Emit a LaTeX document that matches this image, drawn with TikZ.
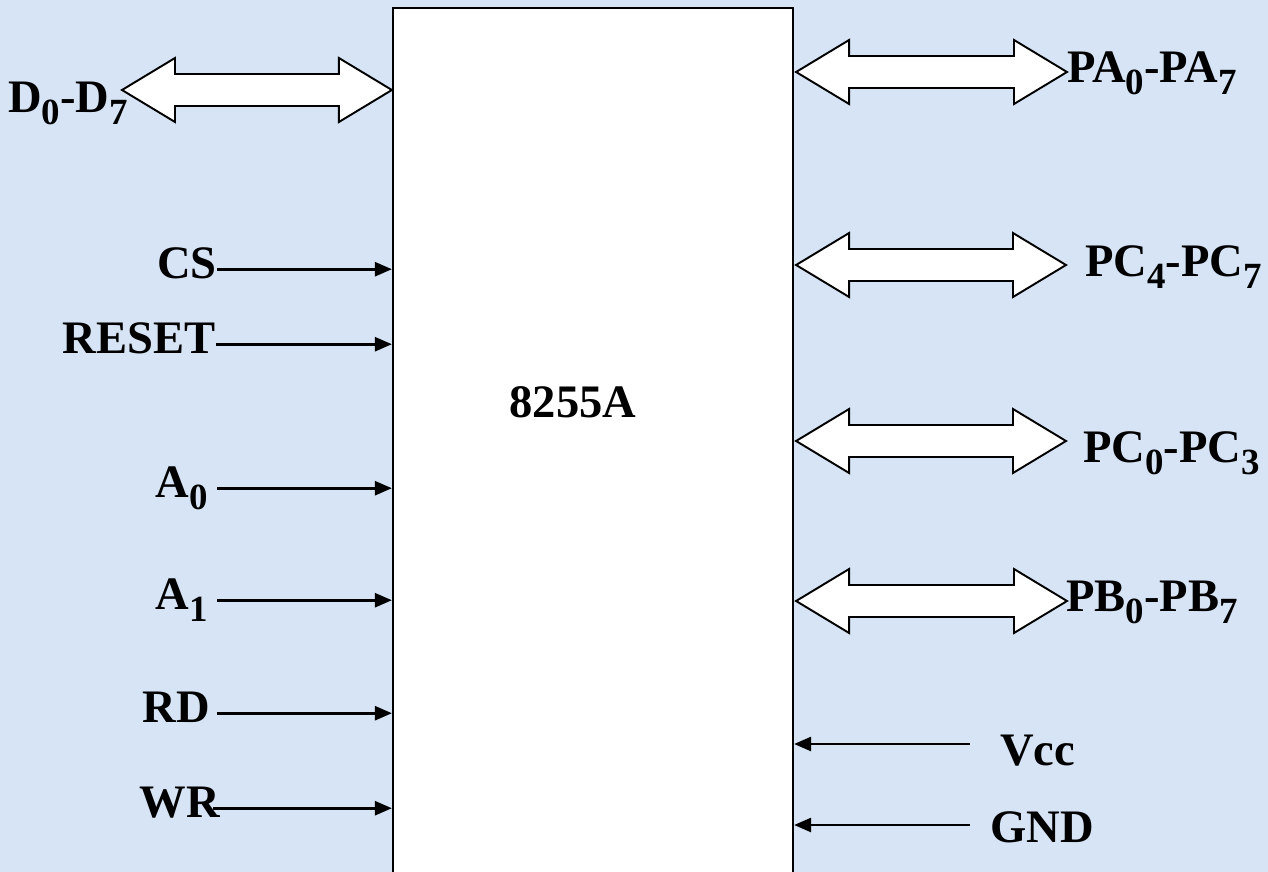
\documentclass[tikz,border=0pt]{standalone}
\usepackage{fontspec}
\setmainfont{Liberation Serif}
\usepackage{tikz}
\usetikzlibrary{
  arrows.meta,
  positioning,
  calc
}
\definecolor{slideblue}{RGB}{214,228,245}

% lowered subscript as the slide prints it
\newcommand{\sub}[1]{\raisebox{-7pt}{\fontsize{21}{24}\selectfont #1}}

% hollow two-headed bus arrow from #1 to #2 (same height)
\newcommand{\busarrow}[2]{%
  \draw[bus] let \p1=(#1), \p2=(#2) in
    (\x1,\y1) -- (\x1+1.06cm,\y1+0.64cm) -- (\x1+1.06cm,\y1+0.32cm)
    -- (\x2-1.06cm,\y1+0.32cm) -- (\x2-1.06cm,\y1+0.64cm) -- (\x2,\y1)
    -- (\x2-1.06cm,\y1-0.64cm) -- (\x2-1.06cm,\y1-0.32cm)
    -- (\x1+1.06cm,\y1-0.32cm) -- (\x1+1.06cm,\y1-0.64cm) -- cycle;}

\begin{document}
\begin{tikzpicture}[
  x=0.02cm, y=-0.02cm,
  chip/.style={draw, line width=1.3pt, fill=white, minimum width=8cm,
    minimum height=17.44cm, inner sep=0pt},
  pin/.style={font=\fontsize{26.5}{30}\selectfont\bfseries, inner sep=0pt},
  pinarrow/.style={line width=1.5pt, -{Triangle[length=0.34cm, width=0.28cm]}},
  bus/.style={draw, line width=1.1pt, fill=white, line join=miter},
]
\useasboundingbox (0,0) rectangle (1268,872);
\fill[slideblue] (0,0) rectangle (1268,872);
\clip (0,0) rectangle (1268,872);

% The chip
\node[chip] (chip) at (593,444) {};
\node[pin, anchor=base] (name) at (573,417) {8255A};

% Data bus
\coordinate (data end) at (122,90);
\node[pin, anchor=base east] (data) at (128,112) {D\sub{0}-D\sub{7}};
\busarrow{data end}{chip.west |- data end}

% Control inputs
\node[pin, anchor=base east] (cs) at (217,278) {CS};
\node[pin, anchor=base east] (reset) at (216,353) {RESET};
\node[pin, anchor=base east] (a0) at (208,497) {A\sub{0}};
\node[pin, anchor=base east] (a1) at (208,609) {A\sub{1}};
\node[pin, anchor=base east] (rd) at (210,722) {RD};
\node[pin, anchor=base east] (wr) at (220,817) {WR};

\draw[pinarrow] ([yshift=5pt]cs.base east) -- ([yshift=5pt]cs.base east -| chip.west);
\draw[pinarrow] ([yshift=5pt]reset.base east) -- ([yshift=5pt]reset.base east -| chip.west);
\draw[pinarrow] ([xshift=0.18cm, yshift=5pt]a0.base east) -- ([yshift=5pt]a0.base east -| chip.west);
\draw[pinarrow] ([xshift=0.18cm, yshift=5pt]a1.base east) -- ([yshift=5pt]a1.base east -| chip.west);
\draw[pinarrow] ([xshift=0.14cm, yshift=5pt]rd.base east) -- ([yshift=5pt]rd.base east -| chip.west);
\draw[pinarrow] ([xshift=-0.14cm, yshift=5pt]wr.base east) -- ([yshift=5pt]wr.base east -| chip.west);

% Port buses
\coordinate (pa end) at (1067,72);
\coordinate (pch end) at (1066,265);
\coordinate (pcl end) at (1066,441);
\coordinate (pb end) at (1067,601);

\node[pin, anchor=base west] (pa) at (1067,82) {PA\sub{0}-PA\sub{7}};
\node[pin, anchor=base west] (pch) at (1085,276) {PC\sub{4}-PC\sub{7}};
\node[pin, anchor=base west] (pcl) at (1083,462) {PC\sub{0}-PC\sub{3}};
\node[pin, anchor=base west] (pb) at (1066,611) {PB\sub{0}-PB\sub{7}};

\busarrow{[xshift=0.04cm]chip.east |- pa end}{pa end}
\busarrow{[xshift=0.04cm]chip.east |- pch end}{pch end}
\busarrow{[xshift=0.04cm]chip.east |- pcl end}{pcl end}
\busarrow{[xshift=0.04cm]chip.east |- pb end}{pb end}

% Supply
\coordinate (vcc end) at (970,744);
\coordinate (gnd end) at (970,825);
\node[pin, anchor=base west] (vcc) at (1000,765) {Vcc};
\node[pin, anchor=base west] (gnd) at (990,842) {GND};
\draw[pinarrow] (vcc end) -- (vcc end -| chip.east);
\draw[pinarrow] (gnd end) -- (gnd end -| chip.east);

\end{tikzpicture}
\end{document}
